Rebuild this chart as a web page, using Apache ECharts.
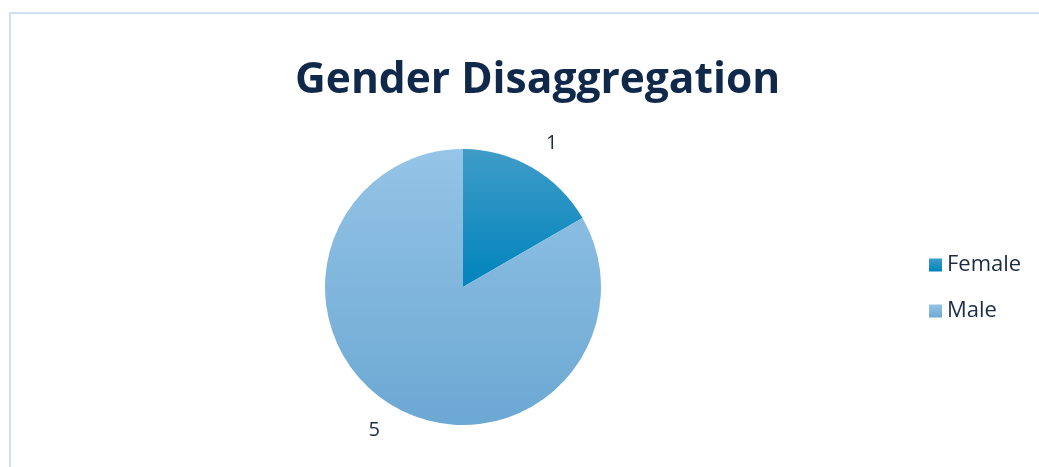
<!DOCTYPE html>
<html>
<head>
<meta charset="utf-8">
<script src="https://cdn.jsdelivr.net/npm/echarts@6/dist/echarts.min.js"></script>
<style>
  html, body { margin: 0; padding: 0; background: #ffffff; overflow: hidden; }
  #frame { position: absolute; left: 9px; top: 12px; width: 1100px; height: 520px; border: 2px solid #cfe0f3; box-sizing: border-box; }
  #chart { position: absolute; left: 0; top: 0; width: 1039px; height: 467px; }
</style>
</head>
<body>
<div id="frame"></div>
<div id="chart"></div>
<script>
const titleText = 'Gender Disaggregation';
const categories = ['Female', 'Male'];
const values = [1, 5];
const gradients = [
  ['#3f9cc8', '#0084bc'],
  ['#95c4e6', '#6ba8d3']
];

const chart = echarts.init(document.getElementById('chart'), null, { renderer: 'canvas' });
const data = categories.map((name, i) => ({
  name: name,
  value: values[i],
  itemStyle: {
    color: new echarts.graphic.LinearGradient(0, 0, 0, 1, [
      { offset: 0, color: gradients[i][0] },
      { offset: 1, color: gradients[i][1] }
    ])
  }
}));

chart.setOption({
  animation: false,
  title: {
    text: titleText,
    left: 295,
    top: 58,
    itemGap: 0,
    padding: 0,
    textStyle: { fontFamily: 'Open Sans', fontWeight: 'bold', fontSize: 42.5, lineHeight: 46, color: '#10294a' }
  },
  legend: {
    orient: 'vertical',
    left: 929,
    top: 252,
    padding: 0,
    itemWidth: 13,
    itemHeight: 13,
    itemGap: 20,
    icon: 'rect',
    data: categories,
    textStyle: { fontFamily: 'Open Sans', fontSize: 22, lineHeight: 26, color: '#1b2c45' }
  },
  series: [{
    type: 'pie',
    center: [463, 287],
    radius: 138,
    startAngle: 90,
    clockwise: true,
    avoidLabelOverlap: false,
    data: data,
    itemStyle: { borderWidth: 0 },
    label: {
      show: true,
      position: 'outside',
      formatter: '{c}',
      fontFamily: 'Open Sans',
      fontSize: 20,
      color: '#1b2c45',
      distanceToLabelLine: 0
    },
    labelLine: { show: false, length: 28, length2: 0 },
    emphasis: { disabled: true }
  }]
});
</script>
</body>
</html>
